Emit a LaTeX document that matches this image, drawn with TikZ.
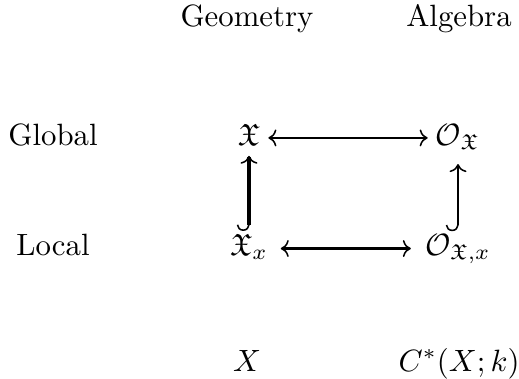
\documentclass[tikz,border=0pt]{standalone}
\usepackage{amsmath,amssymb}
\usetikzlibrary{arrows.meta}
\begin{document}
\begin{tikzpicture}[x=0.3247pt,y=-0.3247pt,
  lbl/.style={anchor=base,inner sep=2.5pt},
  thinline/.style={line width=0.5pt},
  thickline/.style={line width=1.1pt},
  tipto/.tip={To[length=2.6pt,width=5.5pt,line width'=0.5pt]},
  both/.style={{tipto}-{tipto}},
  hookup/.style={{Hooks[right,length=2pt,width=8pt,line width'=0.5pt]}-{tipto}}]
\useasboundingbox (0,0) rectangle (519,378);
\node[lbl] (geo) at (247,27) {Geometry};
\node[lbl] (alg) at (459,27) {Algebra};
\node[lbl] (glob) at (53,145) {Global};
\node[lbl] (loc) at (53,255) {Local};
\node[lbl] (tl) at (249,145) {$\mathfrak{X}$};
\node[lbl] (tr) at (458,145) {$\mathcal{O}_{\mathfrak{X}}$};
\node[lbl] (bl) at (249,255) {$\mathfrak{X}_x$};
\node[lbl] (br) at (458,255) {$\mathcal{O}_{\mathfrak{X},x}$};
\node[lbl] (x) at (247,371) {$X$};
\node[lbl] (c) at (459,371) {$C^*(X;k)$};
\draw[thinline,both] ([yshift=2.3pt]tl.base east) -- ([yshift=2.3pt]tr.base west);
\draw[thickline,both] ([yshift=2.1pt,xshift=1.5pt]bl.base east) -- ([yshift=2.1pt,xshift=-2pt]br.base west);
\draw[thickline,hookup] ([yshift=-1.8pt]bl.north -| tl) -- ([yshift=-0.8pt]tl.south);
\draw[thinline,hookup] ([yshift=-1.8pt]br.north -| tr) -- ([yshift=-2pt]tr.south);
\end{tikzpicture}
\end{document}
